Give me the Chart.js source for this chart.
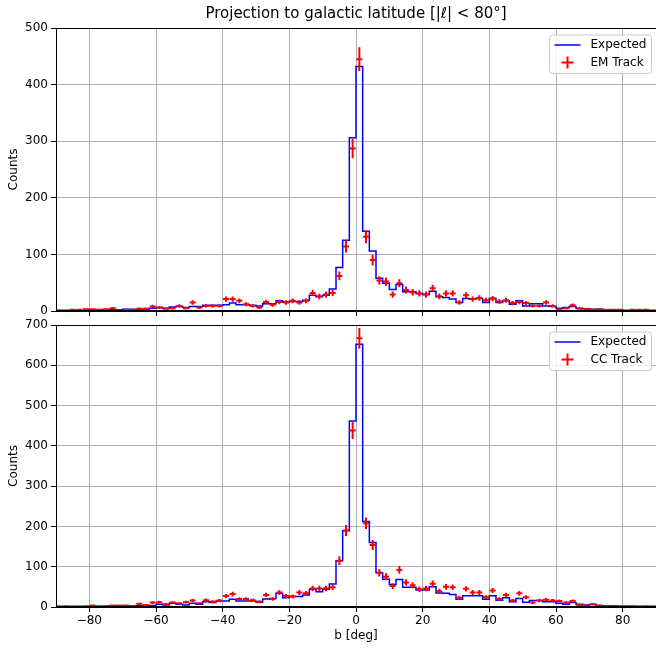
<!DOCTYPE html>
<html>
<head>
<meta charset="utf-8">
<script src="https://cdn.jsdelivr.net/npm/chart.js@4.4.1/dist/chart.umd.min.js"></script>
<style>
  body { margin: 0; background: #fff; }
  #wrap { position: relative; width: 656px; height: 648px; }
  .panel { position: absolute; left: 0; width: 656px; }
</style>
</head>
<body>
<div id="wrap">
  <div class="panel" style="top:0;height:318px"><canvas id="emChart"></canvas></div>
  <div class="panel" style="top:318px;height:330px"><canvas id="ccChart"></canvas></div>
</div>
<script>
// 2 degree bins in galactic latitude
var binEdges = [-90, -88, -86, -84, -82, -80, -78, -76, -74, -72, -70, -68, -66, -64, -62, -60,
  -58, -56, -54, -52, -50, -48, -46, -44, -42, -40, -38, -36, -34, -32, -30, -28, -26, -24, -22,
  -20, -18, -16, -14, -12, -10, -8, -6, -4, -2, 0, 2, 4, 6, 8, 10, 12, 14, 16, 18, 20, 22, 24, 26,
  28, 30, 32, 34, 36, 38, 40, 42, 44, 46, 48, 50, 52, 54, 56, 58, 60, 62, 64, 66, 68, 70, 72, 74,
  76, 78, 80, 82, 84, 86, 88, 90];
var xTicks = [-80, -60, -40, -20, 0, 20, 40, 60, 80];
var emTicks = [0, 100, 200, 300, 400, 500];
var ccTicks = [0, 100, 200, 300, 400, 500, 600, 700];

var emExpected = [1, 1, 1, 1, 1, 2, 2, 2, 2, 2, 3, 3, 3, 3, 5, 6, 5, 7, 8, 6,
  8, 8, 10, 10, 10, 11, 14, 11, 11, 10, 9, 13, 13, 18, 16, 17, 17, 19, 28, 25,
  28, 39, 77, 125, 306, 432, 141, 106, 58, 49, 38, 47, 34, 34, 31, 29, 35, 25, 24, 21,
  15, 22, 21, 22, 15, 22, 15, 18, 12, 18, 9, 13, 13, 9, 8, 5, 6, 8, 5, 4,
  3, 3, 2, 2, 2, 1, 1, 1, 1, 1];
var emCounts = [1, 1, 2, 2, 3, 3, 2, 3, 5, 1, 2, 2, 4, 4, 8, 6, 4, 5, 9, 5,
  15, 6, 9, 9, 9, 21, 21, 18, 12, 9, 6, 16, 11, 16, 15, 18, 15, 18, 32, 26,
  29, 32, 62, 114, 287, 445, 131, 90, 54, 52, 29, 49, 37, 33, 31, 29, 40, 26, 31, 31,
  15, 28, 21, 23, 19, 22, 17, 19, 14, 16, 14, 9, 9, 15, 9, 3, 5, 10, 4, 3,
  2, 3, 2, 2, 2, 1, 2, 2, 2, 1];
var ccExpected = [1, 1, 1, 1, 1, 2, 2, 2, 3, 3, 3, 3, 4, 4, 4, 7, 5, 9, 7, 5,
  9, 7, 13, 11, 15, 15, 19, 15, 15, 15, 12, 20, 21, 34, 23, 26, 26, 30, 44, 38,
  44, 57, 115, 189, 462, 652, 212, 160, 85, 69, 56, 68, 49, 49, 42, 42, 50, 35, 34, 31,
  19, 28, 28, 28, 19, 28, 17, 23, 13, 21, 12, 16, 16, 13, 13, 9, 7, 11, 7, 5,
  6, 4, 3, 3, 2, 2, 2, 1, 1, 1];
var ccCounts = [1, 2, 1, 1, 2, 4, 1, 2, 4, 4, 4, 2, 8, 5, 11, 12, 7, 11, 9, 12,
  16, 9, 17, 13, 16, 27, 32, 20, 20, 17, 13, 30, 20, 36, 27, 26, 36, 34, 46, 46,
  46, 49, 115, 190, 438, 667, 208, 154, 85, 75, 52, 92, 61, 54, 44, 46, 58, 39, 50, 49,
  23, 45, 36, 36, 24, 41, 20, 30, 16, 34, 24, 11, 16, 18, 16, 15, 11, 15, 5, 3,
  7, 4, 2, 2, 2, 2, 2, 1, 2, 1];

var FONT = 'DejaVu Sans';
Chart.defaults.font.family = FONT;
Chart.defaults.color = '#000';

function stepPoints(values) {
    var pts = [];
    for (var i = 0; i < values.length; i++) {
        pts.push({x: binEdges[i], y: values[i]});
    }
    pts.push({x: binEdges[values.length], y: values[values.length - 1]});
    return pts;
}

function centerPoints(values) {
    var pts = [];
    for (var i = 0; i < values.length; i++) {
        pts.push({x: (binEdges[i] + binEdges[i + 1]) / 2, y: values[i]});
    }
    return pts;
}

function minus(v) {
    return String(v).replace('-', '\u2212');
}

// vertical sqrt(N) bars plus a short horizontal bar at each bin centre
var errorBars = {
    id: 'errorBars',
    afterDatasetsDraw: function(chart) {
        var ctx = chart.ctx, area = chart.chartArea;
        var xs = chart.scales.x, ys = chart.scales.y;
        chart.data.datasets.forEach(function(ds) {
            if (!ds.errors) return;
            ctx.save();
            ctx.beginPath();
            ctx.rect(area.left, area.top, area.width, area.height);
            ctx.clip();
            ctx.strokeStyle = ds.borderColor;
            ctx.lineWidth = 2;
            ds.data.forEach(function(p, i) {
                var e = ds.errors[i];
                var px = xs.getPixelForValue(p.x);
                var py = ys.getPixelForValue(p.y);
                ctx.beginPath();
                ctx.moveTo(px, ys.getPixelForValue(p.y - e));
                ctx.lineTo(px, ys.getPixelForValue(p.y + e));
                ctx.moveTo(xs.getPixelForValue(p.x - 0.9), py);
                ctx.lineTo(xs.getPixelForValue(p.x + 0.9), py);
                ctx.stroke();
            });
            ctx.restore();
        });
    }
};

var frame = {
    id: 'frame',
    afterDraw: function(chart) {
        var ctx = chart.ctx, a = chart.chartArea;
        ctx.save();
        ctx.strokeStyle = '#000';
        ctx.lineWidth = 1;
        ctx.strokeRect(a.left + 0.5, a.top + 0.5, a.width, a.height - 1);
        ctx.restore();
    }
};

var insideLegend = {
    id: 'insideLegend',
    afterDraw: function(chart) {
        var ctx = chart.ctx, a = chart.chartArea;
        var ds = chart.data.datasets;
        var w = 102, h = 38.5, r = 3;
        var left = a.right - 4.5 - w, top = a.top + 7;
        ctx.save();
        ctx.beginPath();
        ctx.moveTo(left + r, top);
        ctx.arcTo(left + w, top, left + w, top + h, r);
        ctx.arcTo(left + w, top + h, left, top + h, r);
        ctx.arcTo(left, top + h, left, top, r);
        ctx.arcTo(left, top, left + w, top, r);
        ctx.closePath();
        ctx.fillStyle = 'rgba(255,255,255,0.8)';
        ctx.fill();
        ctx.strokeStyle = '#cccccc';
        ctx.lineWidth = 1;
        ctx.stroke();

        var y1 = top + 10, y2 = top + 27.5, cx = left + 18;
        ctx.strokeStyle = ds[0].borderColor;
        ctx.lineWidth = 1.5;
        ctx.beginPath();
        ctx.moveTo(left + 5, y1);
        ctx.lineTo(left + 31, y1);
        ctx.stroke();

        ctx.strokeStyle = ds[1].borderColor;
        ctx.lineWidth = 2;
        ctx.beginPath();
        ctx.moveTo(cx - 6, y2);
        ctx.lineTo(cx + 6, y2);
        ctx.moveTo(cx, y2 - 6);
        ctx.lineTo(cx, y2 + 6);
        ctx.stroke();

        ctx.fillStyle = '#000';
        ctx.font = '12px "' + FONT + '"';
        ctx.textBaseline = 'middle';
        ctx.textAlign = 'left';
        ctx.fillText(ds[0].label, left + 41, y1);
        ctx.fillText(ds[1].label, left + 41, y2);
        ctx.restore();
    }
};

function makeChart(id, expected, counts, trackLabel, yTicks, isBottom) {
    var ctx = document.getElementById(id).getContext('2d');
    return new Chart(ctx, {
        type: 'scatter',
        data: {
            datasets: [{
                label: 'Expected',
                data: stepPoints(expected),
                showLine: true,
                stepped: 'before',
                borderColor: 'blue',
                borderWidth: 1.5,
                pointRadius: 0,
                fill: false
            }, {
                label: trackLabel,
                data: centerPoints(counts),
                errors: counts.map(Math.sqrt),
                showLine: false,
                pointRadius: 0,
                borderColor: 'red'
            }]
        },
        options: {
            responsive: true,
            maintainAspectRatio: false,
            animation: false,
            devicePixelRatio: 1,
            layout: {padding: {top: isBottom ? 7 : 0, left: 0, right: 0, bottom: 0}},
            plugins: {
                legend: {display: false},
                tooltip: {enabled: false},
                title: {
                    display: !isBottom,
                    text: 'Projection to galactic latitude [|\u2113| < 80\u00b0]',
                    fullSize: false,
                    color: '#000',
                    padding: 0,
                    font: {family: FONT, size: 15, weight: 'normal', lineHeight: '28px'}
                }
            },
            scales: {
                x: {
                    type: 'linear',
                    min: -90,
                    max: 90,
                    afterBuildTicks: function(axis) {
                        axis.ticks = xTicks.map(function(v) { return {value: v}; });
                    },
                    afterFit: function(axis) { axis.height = isBottom ? 41 : 7; },
                    grid: {color: '#b0b0b0', lineWidth: 1, tickColor: '#000', tickLength: 5},
                    border: {display: true, color: '#000', width: 1},
                    ticks: {
                        padding: 2,
                        color: '#000',
                        font: {size: 12},
                        maxRotation: 0,
                        callback: function(v) { return isBottom ? minus(v) : ''; }
                    },
                    title: {
                        display: isBottom,
                        text: 'b [deg]',
                        color: '#000',
                        font: {size: 12},
                        padding: {top: 0, bottom: 5}
                    }
                },
                y: {
                    min: 0,
                    max: yTicks[yTicks.length - 1],
                    afterBuildTicks: function(axis) {
                        axis.ticks = yTicks.map(function(v) { return {value: v}; });
                    },
                    afterFit: function(axis) {
                        axis.width = 56;
                        axis.paddingTop = 0;
                        axis.paddingBottom = 0;
                    },
                    grid: {color: '#b0b0b0', lineWidth: 1, tickColor: '#000', tickLength: 5},
                    border: {display: true, color: '#000', width: 1},
                    ticks: {padding: 3, color: '#000', font: {size: 12}},
                    title: {
                        display: true,
                        text: 'Counts',
                        color: '#000',
                        font: {size: 12},
                        padding: {top: 7, bottom: 0}
                    }
                }
            }
        },
        plugins: [errorBars, frame, insideLegend]
    });
}

makeChart('emChart', emExpected, emCounts, 'EM Track', emTicks, false);
makeChart('ccChart', ccExpected, ccCounts, 'CC Track', ccTicks, true);
</script>
</body>
</html>
